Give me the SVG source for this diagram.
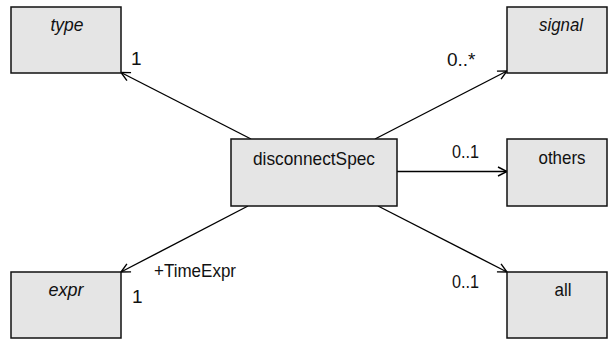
<svg xmlns="http://www.w3.org/2000/svg" width="608" height="339" viewBox="0 0 608 339">
<defs>
<marker id="arr" markerUnits="userSpaceOnUse" markerWidth="14" markerHeight="14" viewBox="-12 -7 14 14" refX="0" refY="0" orient="auto">
<path d="M-9,-4.5 L0,0 L-9,4.5" fill="none" stroke="#000" stroke-width="1.4"/>
</marker>
</defs>
<style>
.box{fill:#e5e5e5;stroke:#111;stroke-width:1.5}
.t{font-family:"Liberation Sans",Arial,sans-serif;font-size:19px;fill:#111}
.c{text-anchor:middle}
.i{font-style:italic}
.ln{stroke:#000;stroke-width:1.4;fill:none;marker-end:url(#arr)}
</style>
<g id="connectors">
<line class="ln" x1="251" y1="139" x2="121" y2="72.5"/>
<line class="ln" x1="375" y1="139" x2="507" y2="71"/>
<line class="ln" x1="397" y1="171.5" x2="507" y2="171.5"/>
<line class="ln" x1="248" y1="206" x2="121" y2="272"/>
<line class="ln" x1="378" y1="206" x2="507" y2="272"/>
<text class="t" x="131" y="65">1</text>
<text class="t" x="447" y="66">0..*</text>
<text class="t" x="452" y="158" textLength="27" lengthAdjust="spacingAndGlyphs">0..1</text>
<text class="t" x="154" y="277" textLength="82" lengthAdjust="spacingAndGlyphs">+TimeExpr</text>
<text class="t" x="132" y="303">1</text>
<text class="t" x="452" y="288" textLength="27" lengthAdjust="spacingAndGlyphs">0..1</text>
</g>
<g id="type">
<rect class="box" x="11" y="7" width="110" height="66"/>
<text class="t c i" x="67" y="31" textLength="33" lengthAdjust="spacingAndGlyphs">type</text>
</g>
<g id="signal">
<rect class="box" x="507" y="7" width="100" height="66"/>
<text class="t c i" x="561" y="31" textLength="44" lengthAdjust="spacingAndGlyphs">signal</text>
</g>
<g id="disconnectSpec">
<rect class="box" x="231" y="139" width="166" height="67"/>
<text class="t c" x="314" y="165" textLength="122" lengthAdjust="spacingAndGlyphs">disconnectSpec</text>
</g>
<g id="others">
<rect class="box" x="507" y="139" width="100" height="67"/>
<text class="t c" x="562" y="164" textLength="47" lengthAdjust="spacingAndGlyphs">others</text>
</g>
<g id="expr">
<rect class="box" x="11" y="272" width="110" height="66"/>
<text class="t c i" x="66" y="296" textLength="35" lengthAdjust="spacingAndGlyphs">expr</text>
</g>
<g id="all">
<rect class="box" x="507" y="272" width="100" height="66"/>
<text class="t c" x="563" y="296" textLength="17" lengthAdjust="spacingAndGlyphs">all</text>
</g>
</svg>
